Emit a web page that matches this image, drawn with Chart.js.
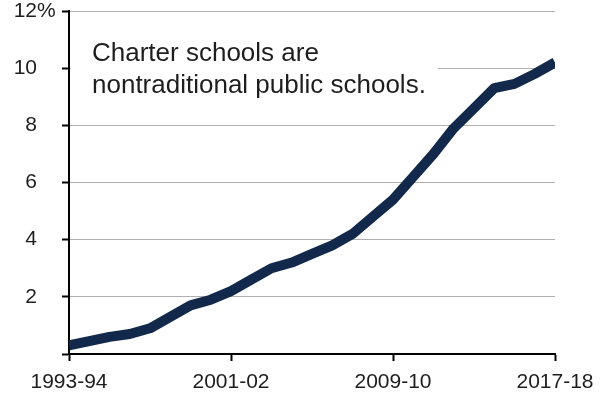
<!DOCTYPE html>
<html>
<head>
<meta charset="utf-8">
<script src="https://cdn.jsdelivr.net/npm/chart.js@4.4.0/dist/chart.umd.min.js"></script>
<style>
  html, body { margin: 0; padding: 0; background: #fff; }
  #wrap { width: 608px; height: 397px; }
</style>
</head>
<body>
<div id="wrap"><canvas id="myChart" width="608" height="397"></canvas></div>
<script>
// School years on the x axis (one point per year)
const years = ['1993-94', '1994-95', '1995-96', '1996-97', '1997-98', '1998-99', '1999-00',
  '2000-01', '2001-02', '2002-03', '2003-04', '2004-05', '2005-06', '2006-07', '2007-08',
  '2008-09', '2009-10', '2010-11', '2011-12', '2012-13', '2013-14', '2014-15', '2015-16',
  '2016-17', '2017-18'];

// Share of public schools that are charter schools (%)
const charterShare = [0.3, 0.45, 0.6, 0.7, 0.9, 1.3, 1.7, 1.9, 2.2, 2.6, 3.0, 3.2, 3.5, 3.8,
  4.2, 4.8, 5.4, 6.2, 7.0, 7.9, 8.6, 9.3, 9.45, 9.8, 10.2];

const yTicks = [0, 2, 4, 6, 8, 10, 12];
const noteLines = ['Charter schools are', 'nontraditional public schools.'];

const FONT = '"Liberation Sans", Arial, sans-serif';
const ctx = document.getElementById('myChart');

// draws the white note box with text, and the % after the top tick label
const notePlugin = {
  id: 'note',
  beforeDatasetsDraw(chart) {
    const c = chart.ctx;
    const area = chart.chartArea;
    c.save();
    c.fillStyle = '#fff';
    c.fillRect(area.left + 2, 36, 438 - area.left - 2, 64);
    c.fillStyle = '#1e1e1e';
    c.font = '26px ' + FONT;
    c.textAlign = 'left';
    c.textBaseline = 'alphabetic';
    c.fillText(noteLines[0], 92, 61);
    c.fillText(noteLines[1], 92, 93);
    c.restore();
  },
  afterDraw(chart) {
    const c = chart.ctx;
    const y = chart.scales.y;
    c.save();
    c.fillStyle = '#1e1e1e';
    c.font = '21px ' + FONT;
    c.textAlign = 'left';
    c.textBaseline = 'middle';
    c.fillText('%', 37, y.getPixelForValue(12));
    c.restore();
  }
};

new Chart(ctx, {
  type: 'line',
  data: {
    datasets: [{
      label: 'Charter schools',
      data: charterShare.map((v, i) => ({ x: i, y: v })),
      borderColor: '#13294b',
      borderWidth: 10,
      borderJoinStyle: 'round',
      borderCapStyle: 'butt',
      pointRadius: 0,
      tension: 0,
      fill: false
    }]
  },
  options: {
    responsive: false,
    animation: false,
    layout: { padding: { left: 0, top: 11, right: 53, bottom: 0 } },
    plugins: {
      legend: { display: false },
      tooltip: { enabled: false }
    },
    scales: {
      x: {
        type: 'linear',
        min: 0,
        max: years.length - 1,
        afterBuildTicks(scale) {
          scale.ticks = [0, 8, 16, 24].map(v => ({ value: v }));
        },
        afterFit(scale) {
          scale.height = 43;
          scale.paddingLeft = 0;
          scale.paddingRight = 0;
        },
        ticks: {
          color: '#1e1e1e',
          font: { family: FONT, size: 21 },
          padding: 9,
          maxRotation: 0,
          callback: (v) => years[v]
        },
        grid: {
          drawOnChartArea: false,
          drawTicks: true,
          tickLength: 7,
          tickColor: '#000',
          tickWidth: 2
        },
        border: { display: true, color: '#000', width: 2 }
      },
      y: {
        min: 0,
        max: 12,
        afterBuildTicks(scale) {
          scale.ticks = yTicks.map(v => ({ value: v }));
        },
        afterFit(scale) {
          scale.width = 69;
          scale.paddingTop = 0;
          scale.paddingBottom = 0;
        },
        ticks: {
          color: '#1e1e1e',
          font: { family: FONT, size: 21 },
          padding: 25,
          callback: (v) => (v === 0 ? '' : String(v))
        },
        grid: {
          color: '#b0b0b0',
          lineWidth: 1,
          drawTicks: true,
          tickLength: 7,
          tickColor: '#000',
          tickWidth: 2
        },
        border: { display: true, color: '#000', width: 2 }
      }
    }
  },
  plugins: [notePlugin]
});
</script>
</body>
</html>
